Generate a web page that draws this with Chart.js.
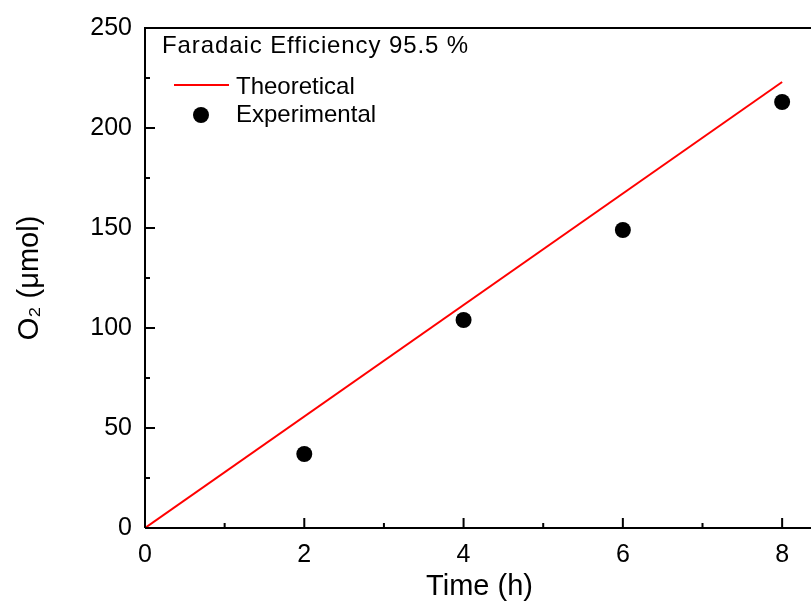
<!DOCTYPE html>
<html><head><meta charset="utf-8">
<script src="https://cdn.jsdelivr.net/npm/chart.js@4/dist/chart.umd.min.js"></script>
<style>html,body{margin:0;padding:0;background:#fff;overflow:hidden}
#wrap{position:relative;width:830px;height:601px}</style></head>
<body><div id="wrap"><canvas id="c" width="830" height="601"></canvas></div>
<script>
const timeHours = [2, 4, 6, 8];
const o2Experimental = [37, 104, 149, 213];
const theoryTime = [0, 8];
const o2Theoretical = [0, 223];
const xMajorTicks = [0, 2, 4, 6, 8];
const xMinorTicks = [1, 3, 5, 7];
const yMajorTicks = [0, 50, 100, 150, 200, 250];
const yMinorTicks = [25, 75, 125, 175, 225];
const annotationText = 'Faradaic Efficiency 95.5 %';
const seriesNames = ['Theoretical', 'Experimental'];
const xTitle = 'Time (h)';
const yTitle = 'O\u2082 (\u03bcmol)';

const FONT = 'Arial, "Liberation Sans", sans-serif';

const framePlugin = {
  id: 'frame',
  afterDraw(chart) {
    const ctx = chart.ctx, a = chart.chartArea;
    const xs = chart.scales.x, ys = chart.scales.y;
    ctx.save();
    ctx.strokeStyle = '#000';
    ctx.lineWidth = 2;
    ctx.beginPath();
    ctx.moveTo(a.left, a.bottom); ctx.lineTo(a.left, a.top); ctx.lineTo(a.right, a.top);
    ctx.moveTo(a.left, a.bottom); ctx.lineTo(a.right, a.bottom);
    ctx.stroke();
    ctx.beginPath();
    xMajorTicks.forEach(v => { const p = xs.getPixelForValue(v); ctx.moveTo(p, a.bottom); ctx.lineTo(p, a.bottom - 10); });
    xMinorTicks.forEach(v => { const p = xs.getPixelForValue(v); ctx.moveTo(p, a.bottom); ctx.lineTo(p, a.bottom - 5); });
    yMajorTicks.forEach(v => { const p = ys.getPixelForValue(v); ctx.moveTo(a.left, p); ctx.lineTo(a.left + 10, p); });
    yMinorTicks.forEach(v => { const p = ys.getPixelForValue(v); ctx.moveTo(a.left, p); ctx.lineTo(a.left + 5, p); });
    ctx.stroke();
    // legend / annotation
    ctx.fillStyle = '#000';
    ctx.textBaseline = 'alphabetic';
    ctx.textAlign = 'left';
    ctx.font = '24px ' + FONT;
    try { ctx.letterSpacing = '0.9px'; } catch (e) {}
    ctx.fillText(annotationText, 162, 53);
    try { ctx.letterSpacing = '0px'; } catch (e) {}
    ctx.strokeStyle = '#ff0000';
    ctx.lineWidth = 2;
    ctx.beginPath(); ctx.moveTo(174, 85); ctx.lineTo(229, 85); ctx.stroke();
    ctx.fillText(seriesNames[0], 236, 94);
    ctx.beginPath(); ctx.arc(201, 115, 8, 0, Math.PI * 2); ctx.fillStyle = '#000'; ctx.fill();
    ctx.fillText(seriesNames[1], 236, 122);
    ctx.restore();
  }
};

new Chart(document.getElementById('c'), {
  type: 'scatter',
  data: {
    datasets: [
      {
        label: seriesNames[0],
        data: theoryTime.map((t, i) => ({ x: t, y: o2Theoretical[i] })),
        showLine: true,
        borderColor: '#ff0000',
        borderWidth: 2,
        pointRadius: 0,
        fill: false
      },
      {
        label: seriesNames[1],
        data: timeHours.map((t, i) => ({ x: t, y: o2Experimental[i] })),
        showLine: false,
        pointRadius: 8,
        pointBackgroundColor: '#000',
        pointBorderColor: '#000',
        pointBorderWidth: 0
      }
    ]
  },
  options: {
    responsive: false,
    animation: false,
    devicePixelRatio: 1,
    layout: { padding: { top: 25, right: 16, left: 0, bottom: 0 } },
    plugins: { legend: { display: false }, tooltip: { enabled: false } },
    scales: {
      x: {
        type: 'linear', min: 0, max: 8.4,
        afterFit(s) { s.height = 73; },
        afterBuildTicks(s) { s.ticks = xMajorTicks.map(v => ({ value: v })); },
        grid: { display: false, drawTicks: false },
        border: { display: false },
        ticks: { color: '#000', font: { family: FONT, size: 25 }, padding: 12, maxRotation: 0 },
        title: { display: true, text: xTitle, color: '#000', font: { family: FONT, size: 29, lineHeight: 1 }, padding: { top: 0, bottom: 0 } }
      },
      y: {
        type: 'linear', min: 0, max: 250,
        afterFit(s) { s.width = 145; },
        afterBuildTicks(s) { s.ticks = yMajorTicks.map(v => ({ value: v })); },
        grid: { display: false, drawTicks: false },
        border: { display: false },
        ticks: { color: '#000', font: { family: FONT, size: 25 }, padding: 13 },
        title: { display: true, text: yTitle, color: '#000', font: { family: FONT, size: 29, lineHeight: 1 }, padding: { top: 15, bottom: 0 } }
      }
    }
  },
  plugins: [framePlugin]
});
</script></body></html>
